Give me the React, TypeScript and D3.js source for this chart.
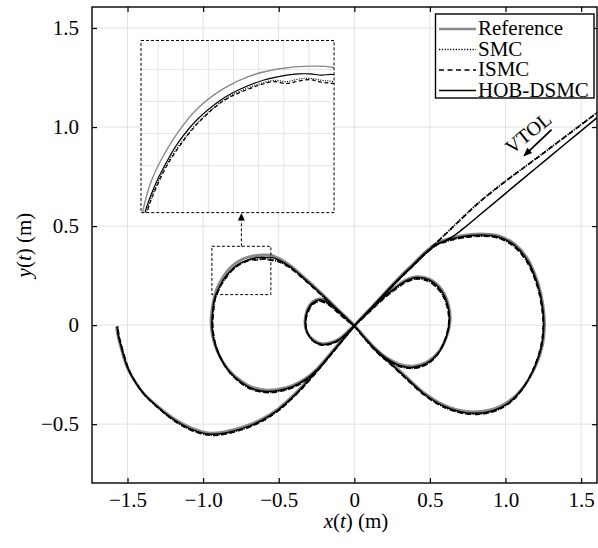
import React, { useEffect, useRef } from "react";
import * as d3 from "d3";

type Pt = [number, number];

const xTicks = [-1.5, -1.0, -0.5, 0, 0.5, 1.0, 1.5];
const xTickLabels = ["−1.5", "−1.0", "−0.5", "0", "0.5", "1.0", "1.5"];
const yTicks = [-0.5, 0, 0.5, 1.0, 1.5];
const yTickLabels = ["−0.5", "0", "0.5", "1.0", "1.5"];
const insetXTicks = [-0.9, -0.85, -0.8, -0.75, -0.7, -0.65, -0.6];
const insetYTicks = [0.2, 0.25, 0.3, 0.35];
const seriesNames = ["Reference", "SMC", "ISMC", "HOB-DSMC"];

// reference trajectory (x, y) in metres
const refPath: Pt[] = [
  [0, 0], [-0.05, -0.036], [-0.1, -0.068], [-0.16, -0.088], [-0.22, -0.092],
  [-0.275, -0.072], [-0.315, -0.032], [-0.327, 0.015], [-0.315, 0.07], [-0.28, 0.115],
  [-0.23, 0.133], [-0.175, 0.118], [-0.115, 0.08], [-0.055, 0.038], [0, 0],
  [0.06, -0.052], [0.13, -0.11], [0.21, -0.162], [0.3, -0.198], [0.39, -0.207],
  [0.48, -0.186], [0.56, -0.132], [0.612, -0.055], [0.634, 0.025], [0.622, 0.105],
  [0.578, 0.18], [0.5, 0.232], [0.415, 0.245], [0.34, 0.228], [0.27, 0.192],
  [0.2, 0.148], [0.1, 0.075], [0, 0],
  [-0.08, -0.072], [-0.16, -0.145], [-0.24, -0.215], [-0.32, -0.268], [-0.41, -0.305],
  [-0.5, -0.323], [-0.58, -0.328], [-0.68, -0.312], [-0.756, -0.278], [-0.82, -0.235],
  [-0.866, -0.19], [-0.91, -0.125], [-0.937, -0.06], [-0.948, 0.01], [-0.943, 0.07],
  [-0.931, 0.127], [-0.914, 0.175], [-0.892, 0.212], [-0.865, 0.247], [-0.823, 0.288],
  [-0.77, 0.32], [-0.717, 0.34], [-0.658, 0.351], [-0.598, 0.355], [-0.552, 0.353],
  [-0.5, 0.337], [-0.425, 0.302], [-0.315, 0.23], [-0.205, 0.152], [-0.095, 0.07], [0, 0],
  [0.08, -0.07], [0.16, -0.135], [0.236, -0.185], [0.346, -0.262], [0.456, -0.338],
  [0.589, -0.402], [0.743, -0.436], [0.897, -0.428], [1.02, -0.385], [1.12, -0.31],
  [1.2, -0.205], [1.245, -0.1], [1.258, 0.0], [1.248, 0.1], [1.218, 0.205],
  [1.15, 0.33], [1.06, 0.41], [0.95, 0.452], [0.831, 0.461], [0.7, 0.45],
  [0.6, 0.43], [0.545, 0.414], [0.47, 0.37], [0.39, 0.31], [0.3, 0.243],
  [0.2, 0.163], [0.1, 0.08], [0, 0],
  [-0.08, -0.072], [-0.16, -0.145], [-0.27, -0.245], [-0.4, -0.352], [-0.513, -0.428],
  [-0.62, -0.478], [-0.734, -0.513], [-0.85, -0.537], [-0.954, -0.545], [-1.08, -0.518],
  [-1.197, -0.47], [-1.3, -0.41], [-1.395, -0.343], [-1.455, -0.28], [-1.505, -0.209],
  [-1.545, -0.11], [-1.565, -0.05], [-1.572, -0.007],
];

const smcPath: Pt[] = [
  [1.76, 1.163], [1.614, 1.078], [1.4, 0.955], [1.2, 0.84], [1.0, 0.727], [0.831, 0.624],
  [0.72, 0.546], [0.63, 0.48], [0.545, 0.418], [0.46, 0.355], [0.38, 0.296], [0.29, 0.228],
  [0.2, 0.155], [0.1, 0.074], [0, -0.004],
  [-0.05, -0.043], [-0.1, -0.075], [-0.16, -0.095], [-0.22, -0.099], [-0.272, -0.08],
  [-0.31, -0.04], [-0.322, 0.008], [-0.311, 0.06], [-0.278, 0.104], [-0.23, 0.122],
  [-0.178, 0.108], [-0.118, 0.071], [-0.058, 0.031], [0, -0.006],
  [0.06, -0.059], [0.13, -0.118], [0.21, -0.171], [0.3, -0.208], [0.39, -0.217],
  [0.48, -0.197], [0.555, -0.143], [0.605, -0.063], [0.626, 0.018], [0.614, 0.097],
  [0.57, 0.169], [0.495, 0.221], [0.413, 0.234], [0.34, 0.217], [0.27, 0.181],
  [0.2, 0.139], [0.1, 0.068], [0, -0.006],
  [-0.08, -0.079], [-0.16, -0.153], [-0.24, -0.223], [-0.32, -0.277], [-0.41, -0.315],
  [-0.5, -0.334], [-0.58, -0.339], [-0.68, -0.323], [-0.756, -0.288], [-0.818, -0.244],
  [-0.862, -0.198], [-0.903, -0.133], [-0.928, -0.066], [-0.938, 0.004], [-0.933, 0.068],
  [-0.923, 0.127], [-0.904, 0.168], [-0.882, 0.203], [-0.855, 0.235], [-0.82, 0.268],
  [-0.77, 0.302], [-0.737, 0.316], [-0.7, 0.327], [-0.67, 0.333], [-0.644, 0.331],
  [-0.62, 0.335], [-0.598, 0.336], [-0.575, 0.333], [-0.552, 0.331], [-0.5, 0.322],
  [-0.425, 0.29], [-0.315, 0.22], [-0.205, 0.143], [-0.095, 0.063], [0, -0.005],
  [0.08, -0.078], [0.16, -0.144], [0.236, -0.194], [0.346, -0.272], [0.456, -0.348],
  [0.589, -0.412], [0.743, -0.447], [0.897, -0.44], [1.02, -0.396], [1.115, -0.319],
  [1.19, -0.212], [1.235, -0.105], [1.25, -0.004], [1.24, 0.095], [1.21, 0.2],
  [1.143, 0.32], [1.055, 0.399], [0.95, 0.441], [0.831, 0.45], [0.7, 0.44],
  [0.6, 0.421], [0.545, 0.405], [0.47, 0.361], [0.39, 0.301], [0.3, 0.235],
  [0.2, 0.156], [0.1, 0.075], [0, -0.005],
  [-0.08, -0.079], [-0.16, -0.153], [-0.27, -0.254], [-0.4, -0.361], [-0.513, -0.437],
  [-0.62, -0.488], [-0.734, -0.524], [-0.85, -0.548], [-0.954, -0.555], [-1.08, -0.529],
  [-1.195, -0.48], [-1.295, -0.419], [-1.388, -0.351], [-1.448, -0.287], [-1.497, -0.215],
  [-1.537, -0.114], [-1.558, -0.052], [-1.566, -0.006],
];

const ismcPath: Pt[] = [
  [1.76, 1.162], [1.614, 1.077], [1.4, 0.954], [1.2, 0.839], [1.0, 0.726], [0.831, 0.623],
  [0.72, 0.545], [0.63, 0.479], [0.545, 0.417], [0.46, 0.354], [0.38, 0.295], [0.29, 0.227],
  [0.2, 0.154], [0.1, 0.073], [0, -0.005],
  [-0.05, -0.044], [-0.1, -0.076], [-0.16, -0.096], [-0.22, -0.1], [-0.271, -0.081],
  [-0.309, -0.041], [-0.321, 0.007], [-0.31, 0.059], [-0.277, 0.103], [-0.23, 0.121],
  [-0.179, 0.107], [-0.119, 0.07], [-0.059, 0.03], [0, -0.007],
  [0.06, -0.06], [0.13, -0.119], [0.21, -0.172], [0.3, -0.209], [0.39, -0.218],
  [0.48, -0.198], [0.554, -0.144], [0.604, -0.064], [0.625, 0.017], [0.613, 0.096],
  [0.569, 0.168], [0.494, 0.22], [0.412, 0.233], [0.34, 0.216], [0.27, 0.18],
  [0.2, 0.138], [0.1, 0.067], [0, -0.007],
  [-0.08, -0.08], [-0.16, -0.154], [-0.24, -0.224], [-0.32, -0.278], [-0.41, -0.316],
  [-0.5, -0.335], [-0.58, -0.34], [-0.68, -0.324], [-0.756, -0.289], [-0.817, -0.245],
  [-0.861, -0.199], [-0.902, -0.134], [-0.927, -0.067], [-0.937, 0.003], [-0.932, 0.067],
  [-0.922, 0.127], [-0.903, 0.167], [-0.881, 0.202], [-0.854, 0.234], [-0.82, 0.267],
  [-0.77, 0.301], [-0.737, 0.314], [-0.7, 0.325], [-0.67, 0.331], [-0.644, 0.328],
  [-0.62, 0.332], [-0.598, 0.334], [-0.575, 0.33], [-0.552, 0.328], [-0.5, 0.32],
  [-0.425, 0.289], [-0.315, 0.219], [-0.205, 0.142], [-0.095, 0.062], [0, -0.006],
  [0.08, -0.079], [0.16, -0.145], [0.236, -0.195], [0.346, -0.273], [0.456, -0.349],
  [0.589, -0.413], [0.743, -0.448], [0.897, -0.441], [1.02, -0.397], [1.114, -0.32],
  [1.189, -0.213], [1.234, -0.106], [1.249, -0.005], [1.239, 0.094], [1.209, 0.199],
  [1.142, 0.319], [1.054, 0.398], [0.95, 0.44], [0.831, 0.449], [0.7, 0.439],
  [0.6, 0.42], [0.545, 0.404], [0.47, 0.36], [0.39, 0.3], [0.3, 0.234],
  [0.2, 0.155], [0.1, 0.074], [0, -0.006],
  [-0.08, -0.08], [-0.16, -0.154], [-0.27, -0.255], [-0.4, -0.362], [-0.513, -0.438],
  [-0.62, -0.489], [-0.734, -0.525], [-0.85, -0.549], [-0.954, -0.556], [-1.08, -0.53],
  [-1.194, -0.481], [-1.294, -0.42], [-1.387, -0.352], [-1.447, -0.288], [-1.496, -0.216],
  [-1.536, -0.115], [-1.557, -0.053], [-1.565, -0.007],
];

const hobPath: Pt[] = [
  [1.76, 1.145], [1.614, 1.053], [1.4, 0.918], [1.2, 0.792], [1.0, 0.665], [0.831, 0.557],
  [0.72, 0.487], [0.65, 0.447], [0.6, 0.427], [0.545, 0.406], [0.47, 0.363], [0.39, 0.304],
  [0.3, 0.238], [0.2, 0.158], [0.1, 0.077], [0, -0.003],
  [-0.05, -0.041], [-0.1, -0.073], [-0.16, -0.093], [-0.22, -0.097], [-0.274, -0.077],
  [-0.313, -0.036], [-0.325, 0.012], [-0.313, 0.066], [-0.279, 0.11], [-0.23, 0.128],
  [-0.176, 0.113], [-0.116, 0.075], [-0.056, 0.034], [0, -0.004],
  [0.06, -0.056], [0.13, -0.115], [0.21, -0.167], [0.3, -0.204], [0.39, -0.213],
  [0.48, -0.192], [0.558, -0.138], [0.609, -0.06], [0.63, 0.021], [0.618, 0.101],
  [0.574, 0.175], [0.498, 0.227], [0.414, 0.24], [0.34, 0.223], [0.27, 0.187],
  [0.2, 0.144], [0.1, 0.071], [0, -0.004],
  [-0.08, -0.076], [-0.16, -0.15], [-0.24, -0.22], [-0.32, -0.273], [-0.41, -0.311],
  [-0.5, -0.33], [-0.58, -0.335], [-0.68, -0.319], [-0.756, -0.284], [-0.819, -0.24],
  [-0.864, -0.195], [-0.906, -0.13], [-0.932, -0.064], [-0.942, 0.006], [-0.937, 0.07],
  [-0.926, 0.127], [-0.907, 0.168], [-0.885, 0.203], [-0.86, 0.236], [-0.822, 0.272],
  [-0.77, 0.305], [-0.737, 0.319], [-0.691, 0.333], [-0.644, 0.341], [-0.62, 0.343],
  [-0.598, 0.343], [-0.575, 0.341], [-0.552, 0.342], [-0.5, 0.329], [-0.425, 0.295],
  [-0.315, 0.224], [-0.205, 0.147], [-0.095, 0.066], [0, -0.004],
  [0.08, -0.075], [0.16, -0.141], [0.236, -0.191], [0.346, -0.268], [0.456, -0.344],
  [0.589, -0.408], [0.743, -0.443], [0.897, -0.436], [1.02, -0.392], [1.117, -0.315],
  [1.195, -0.209], [1.24, -0.103], [1.253, -0.002], [1.244, 0.097], [1.214, 0.202],
  [1.146, 0.325], [1.058, 0.404], [0.95, 0.446], [0.831, 0.455], [0.7, 0.445],
  [0.6, 0.425], [0.545, 0.408], [0.47, 0.365], [0.39, 0.305], [0.3, 0.239],
  [0.2, 0.159], [0.1, 0.077], [0, -0.003],
  [-0.08, -0.076], [-0.16, -0.15], [-0.27, -0.25], [-0.4, -0.357], [-0.513, -0.433],
  [-0.62, -0.484], [-0.734, -0.52], [-0.85, -0.544], [-0.954, -0.551], [-1.08, -0.525],
  [-1.196, -0.476], [-1.298, -0.415], [-1.392, -0.347], [-1.452, -0.284], [-1.501, -0.212],
  [-1.541, -0.112], [-1.561, -0.051], [-1.569, -0.006],
];

// zoomed window shown in the inset
const zoomX = [-0.942, -0.552];
const zoomY = [0.154, 0.398];
const insetDomainX = [-0.934, -0.55];
const insetDomainY = [0.127, 0.395];

const FONT = "Liberation Serif";

export default function App() {
  const svgRef = useRef<SVGSVGElement>(null);

  useEffect(() => {
    const width = 598;
    const height = 548;
    const margin = { top: 7, right: 1, bottom: 65, left: 92 };

    const svg = d3.select(svgRef.current);
    svg.selectAll("*").remove();
    svg
      .attr("width", width)
      .attr("height", height)
      .attr("viewBox", [0, 0, width, height] as any)
      .attr("font-family", FONT);

    const x = d3.scaleLinear().domain([-1.735, 1.605]).range([margin.left, width - margin.right]);
    const y = d3.scaleLinear().domain([-0.797, 1.606]).range([height - margin.bottom, margin.top]);
    const x0 = margin.left, x1 = width - margin.right;
    const y0 = margin.top, y1 = height - margin.bottom;

    svg.append("rect").attr("width", width).attr("height", height).attr("fill", "#fff");

    const defs = svg.append("defs");
    defs.append("clipPath").attr("id", "plotClip")
      .append("rect").attr("x", x0).attr("y", y0).attr("width", x1 - x0).attr("height", y1 - y0);

    // grid
    const grid = svg.append("g").attr("stroke", "#e2e2e2").attr("stroke-width", 1);
    grid.selectAll(".gx").data(xTicks).join("line")
      .attr("x1", (d) => x(d)).attr("x2", (d) => x(d)).attr("y1", y0).attr("y2", y1);
    grid.selectAll(".gy").data(yTicks).join("line")
      .attr("y1", (d) => y(d)).attr("y2", (d) => y(d)).attr("x1", x0).attr("x2", x1);

    const styles = [
      { data: refPath, color: "#8a8a8a", width: 2.8, dash: null },
      { data: smcPath, color: "#000", width: 1.8, dash: "1.2,1.4" },
      { data: ismcPath, color: "#000", width: 1.7, dash: "5,3.5" },
      { data: hobPath, color: "#000", width: 1.5, dash: null },
    ];

    const lineMain = d3.line<Pt>()
      .x((d) => x(d[0]))
      .y((d) => y(d[1]))
      .curve(d3.curveCatmullRom.alpha(0.5));

    const curves = svg.append("g").attr("clip-path", "url(#plotClip)");
    styles.forEach((s) => {
      curves.append("path")
        .attr("d", lineMain(s.data))
        .attr("fill", "none")
        .attr("stroke", s.color)
        .attr("stroke-width", s.width)
        .attr("stroke-dasharray", s.dash)
        .attr("stroke-linejoin", "round");
    });

    // zoom window + arrow to inset
    const zoomRect = svg.append("g").attr("fill", "none").attr("stroke", "#000").attr("stroke-width", 1);
    zoomRect.append("rect")
      .attr("x", x(zoomX[0])).attr("y", y(zoomY[1]))
      .attr("width", x(zoomX[1]) - x(zoomX[0])).attr("height", y(zoomY[0]) - y(zoomY[1]))
      .attr("stroke-dasharray", "3,2");

    const insetBox = { left: x(-1.411), right: x(-0.134), top: y(1.437), bottom: y(0.568) };
    const ax = x((zoomX[0] + zoomX[1]) / 2);
    zoomRect.append("line")
      .attr("x1", ax).attr("x2", ax)
      .attr("y1", y(zoomY[1])).attr("y2", insetBox.bottom + 6)
      .attr("stroke-dasharray", "3,2");
    svg.append("path")
      .attr("d", `M${ax},${insetBox.bottom + 0.5} L${ax - 3.5},${insetBox.bottom + 8} L${ax + 3.5},${insetBox.bottom + 8} Z`)
      .attr("fill", "#000");

    // inset
    const ix = d3.scaleLinear().domain(insetDomainX).range([insetBox.left, insetBox.right]);
    const iy = d3.scaleLinear().domain(insetDomainY).range([insetBox.bottom, insetBox.top]);
    defs.append("clipPath").attr("id", "insetClip")
      .append("rect")
      .attr("x", insetBox.left).attr("y", insetBox.top)
      .attr("width", insetBox.right - insetBox.left).attr("height", insetBox.bottom - insetBox.top);

    const inset = svg.append("g");
    inset.append("rect")
      .attr("x", insetBox.left).attr("y", insetBox.top)
      .attr("width", insetBox.right - insetBox.left).attr("height", insetBox.bottom - insetBox.top)
      .attr("fill", "#fff");
    const ig = inset.append("g").attr("stroke", "#e4e4e4").attr("stroke-width", 1);
    ig.selectAll(".ix").data(insetXTicks).join("line")
      .attr("x1", (d) => ix(d)).attr("x2", (d) => ix(d))
      .attr("y1", insetBox.top).attr("y2", insetBox.bottom);
    ig.selectAll(".iy").data(insetYTicks).join("line")
      .attr("y1", (d) => iy(d)).attr("y2", (d) => iy(d))
      .attr("x1", insetBox.left).attr("x2", insetBox.right);

    const lineInset = d3.line<Pt>()
      .x((d) => ix(d[0]))
      .y((d) => iy(d[1]))
      .curve(d3.curveCatmullRom.alpha(0.5));
    const ic = inset.append("g").attr("clip-path", "url(#insetClip)");
    styles.forEach((s, i) => {
      ic.append("path")
        .attr("d", lineInset(s.data))
        .attr("fill", "none")
        .attr("stroke", s.color)
        .attr("stroke-width", i === 0 ? 1.4 : 1.2)
        .attr("stroke-dasharray", i === 1 ? "1,1.4" : i === 2 ? "4,2.5" : null);
    });
    inset.append("rect")
      .attr("x", insetBox.left).attr("y", insetBox.top)
      .attr("width", insetBox.right - insetBox.left).attr("height", insetBox.bottom - insetBox.top)
      .attr("fill", "none").attr("stroke", "#000").attr("stroke-width", 1)
      .attr("stroke-dasharray", "3,2");

    // axes
    const axisBottom = d3.axisBottom(x).tickValues(xTicks)
      .tickFormat((d, i) => xTickLabels[i]).tickSize(-5).tickPadding(9);
    const axisLeft = d3.axisLeft(y).tickValues(yTicks)
      .tickFormat((d, i) => yTickLabels[i]).tickSize(-5).tickPadding(13);
    const axisTop = d3.axisTop(x).tickValues(xTicks).tickFormat(() => "").tickSize(-5);
    const axisRight = d3.axisRight(y).tickValues(yTicks).tickFormat(() => "").tickSize(-5);

    const styleAxis = (g: any) => {
      g.attr("font-family", FONT).attr("font-size", 21);
      g.select(".domain").remove();
      g.selectAll(".tick line").attr("stroke", "#000").attr("stroke-width", 1.2);
      g.selectAll(".tick text").attr("fill", "#000");
    };
    svg.append("g").attr("transform", `translate(0,${y1})`).call(axisBottom).call(styleAxis);
    svg.append("g").attr("transform", `translate(${x0},0)`).call(axisLeft).call(styleAxis);
    svg.append("g").attr("transform", `translate(0,${y0})`).call(axisTop).call(styleAxis);
    svg.append("g").attr("transform", `translate(${x1},0)`).call(axisRight).call(styleAxis);

    svg.append("rect")
      .attr("x", x0).attr("y", y0).attr("width", x1 - x0).attr("height", y1 - y0)
      .attr("fill", "none").attr("stroke", "#000").attr("stroke-width", 1.4);

    // axis titles
    const xt = svg.append("text")
      .attr("x", 356).attr("y", 528)
      .attr("text-anchor", "middle").attr("font-size", 21).attr("fill", "#000");
    xt.append("tspan").attr("font-style", "italic").text("x");
    xt.append("tspan").text("(");
    xt.append("tspan").attr("font-style", "italic").text("t");
    xt.append("tspan").text(") (m)");

    const yt = svg.append("text")
      .attr("transform", `translate(31,${(y0 + y1) / 2}) rotate(-90)`)
      .attr("text-anchor", "middle").attr("font-size", 21).attr("fill", "#000");
    yt.append("tspan").attr("font-style", "italic").text("y");
    yt.append("tspan").text("(");
    yt.append("tspan").attr("font-style", "italic").text("t");
    yt.append("tspan").text(") (m)");

    // VTOL annotation
    svg.append("text")
      .attr("transform", `translate(${x(1.149)},${y(0.971)}) rotate(-39)`)
      .attr("text-anchor", "middle").attr("dy", "0.35em")
      .attr("font-size", 20).attr("fill", "#000")
      .text("VTOL");
    const ax1 = x(1.305), ay1 = y(0.987), ax2 = x(1.117), ay2 = y(0.851);
    const ang = Math.atan2(ay2 - ay1, ax2 - ax1);
    svg.append("line")
      .attr("x1", ax1).attr("y1", ay1)
      .attr("x2", ax2 - 6 * Math.cos(ang)).attr("y2", ay2 - 6 * Math.sin(ang))
      .attr("stroke", "#000").attr("stroke-width", 1.8);
    const hx = ax2, hy = ay2;
    const p1 = [hx - 9 * Math.cos(ang) + 3.5 * Math.sin(ang), hy - 9 * Math.sin(ang) - 3.5 * Math.cos(ang)];
    const p2 = [hx - 9 * Math.cos(ang) - 3.5 * Math.sin(ang), hy - 9 * Math.sin(ang) + 3.5 * Math.cos(ang)];
    svg.append("path")
      .attr("d", `M${hx},${hy} L${p1[0]},${p1[1]} L${p2[0]},${p2[1]} Z`)
      .attr("fill", "#000");

    // legend
    const lg = svg.append("g");
    lg.append("rect")
      .attr("x", 435.5).attr("y", 14).attr("width", 158.5).attr("height", 84)
      .attr("fill", "#fff").attr("stroke", "#000").attr("stroke-width", 1.4);
    const rows = lg.selectAll(".row").data(seriesNames).join("g")
      .attr("transform", (d, i) => `translate(0,${35 + i * 20.5})`);
    rows.append("line")
      .attr("x1", 439).attr("x2", 476).attr("y1", -6).attr("y2", -6)
      .attr("stroke", (d, i) => styles[i].color)
      .attr("stroke-width", (d, i) => (i === 0 ? 2.4 : 1.6))
      .attr("stroke-dasharray", (d, i) => (i === 1 ? "1.2,1.6" : i === 2 ? "5,3.5" : null));
    rows.append("text")
      .attr("x", 478).attr("y", 0)
      .attr("font-size", 21).attr("fill", "#000")
      .text((d) => d);
  }, []);

  return (
    <svg
      ref={svgRef}
      style={{ position: "absolute", left: 0, top: 0, display: "block" }}
    />
  );
}
